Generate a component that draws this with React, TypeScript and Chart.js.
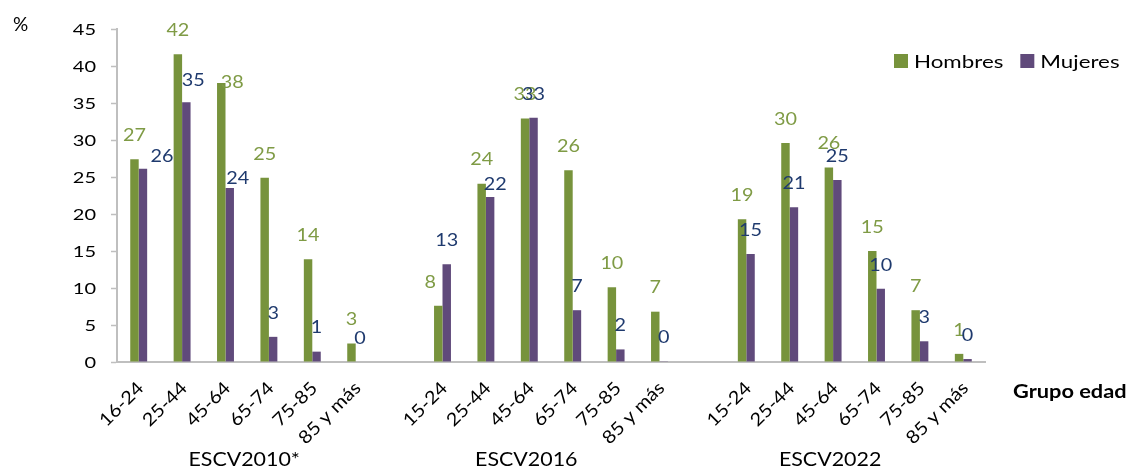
import React, { useEffect, useRef } from 'react';
import { Chart, registerables } from 'chart.js';

Chart.register(...registerables);

// ---- data ----
const categories = [
  '16-24', '25-44', '45-64', '65-74', '75-85', '85 y más', '',
  '15-24', '25-44', '45-64', '65-74', '75-85', '85 y más', '',
  '15-24', '25-44', '45-64', '65-74', '75-85', '85 y más',
];
const hombres = [27.4, 41.6, 37.7, 24.9, 13.9, 2.5, null, 7.6, 24.1, 32.9, 25.9, 10.1, 6.8, null, 19.3, 29.6, 26.3, 15.0, 7.0, 1.1];
const mujeres = [26.1, 35.1, 23.5, 3.4, 1.4, 0, null, 13.2, 22.3, 33.0, 7.0, 1.7, 0.1, null, 14.6, 20.9, 24.6, 9.9, 2.8, 0.4];
const seriesNames = ['Hombres', 'Mujeres'];
const surveys = ['ESCV2010*', 'ESCV2016', 'ESCV2022'];
const surveyFirst = [0, 6, 13];
const surveyLast = [5, 12, 19];
const yTickValues = [0, 5, 10, 15, 20, 25, 30, 35, 40, 45];
const yUnit = '%';
const xTitle = 'Grupo edad';

// ---- style ----
const GREEN = '#77933C';
const PURPLE = '#604A7B';
const GREEN_TXT = '#7F9B45';
const BLUE_TXT = '#1F3A6E';
const AXIS = '#BFBFBF';
const FONT = 'Lato';
// label nudges (px) for a few overlapping data labels: [dataset, index, dx, dy]
const labelNudges: [number, number, number, number][] = [
  [1, 0, 19, 11],
  [1, 1, 7, 2],
  [0, 2, 11, 23],
  [1, 2, 8, 14],
  [0, 7, -8, 0],
  [1, 8, 5, 11],
];

type TOpts = {
  size: number;
  weight?: string;
  color: string;
  align: CanvasTextAlign;
  baseline: CanvasTextBaseline;
  sx?: number;
  rot?: number;
};

function drawText(ctx: CanvasRenderingContext2D, s: string, x: number, y: number, o: TOpts) {
  ctx.save();
  ctx.translate(x, y);
  if (o.rot) ctx.rotate(o.rot);
  ctx.scale(o.sx ?? 1, 1);
  ctx.font = `${o.weight ?? 'normal'} ${o.size}px ${FONT}`;
  ctx.fillStyle = o.color;
  ctx.textAlign = o.align;
  ctx.textBaseline = o.baseline;
  ctx.fillText(s, 0, 0);
  ctx.restore();
}

const textPlugin = {
  id: 'textPlugin',
  afterDraw(chart: any) {
    const ctx: CanvasRenderingContext2D = chart.ctx;
    const xs = chart.scales.x;
    const ys = chart.scales.y;
    const area = chart.chartArea;

    // y tick labels
    yTickValues.forEach((v) => {
      drawText(ctx, String(v), area.left - 21, ys.getPixelForValue(v) + 1, {
        size: 16, color: '#000', align: 'right', baseline: 'middle', sx: 1.25,
      });
    });

    // x tick labels (rotated)
    categories.forEach((c, i) => {
      if (!c) return;
      const px = xs.getPixelForValue(i);
      drawText(ctx, c, px + 2, area.bottom + 23, {
        size: 18, color: '#000', align: 'right', baseline: 'middle', sx: 1.12, rot: -Math.PI / 4,
      });
    });

    // survey group labels
    surveys.forEach((s, g) => {
      const a = xs.getPixelForValue(surveyFirst[g]);
      const b = xs.getPixelForValue(surveyLast[g]);
      drawText(ctx, s, (a + b) / 2 - 3, 466, {
        size: 20, color: '#000', align: 'center', baseline: 'alphabetic', sx: 1.07,
      });
    });

    // data labels
    chart.data.datasets.forEach((ds: any, di: number) => {
      const meta = chart.getDatasetMeta(di);
      meta.data.forEach((el: any, i: number) => {
        const v = ds.data[i];
        if (v === null || v === undefined) return;
        let dx = 0;
        let dy = 0;
        labelNudges.forEach(([d, idx, ndx, ndy]) => {
          if (d === di && idx === i) { dx = ndx; dy = ndy; }
        });
        drawText(ctx, String(Math.round(v)), el.x + dx, el.y - 24 + dy, {
          size: 18, color: di === 0 ? GREEN_TXT : BLUE_TXT, align: 'center', baseline: 'middle', sx: 1.1,
        });
      });
    });

    // legend
    let lx = 894;
    const ly = 61;
    seriesNames.forEach((n, i) => {
      ctx.fillStyle = i === 0 ? GREEN : PURPLE;
      ctx.fillRect(lx, ly - 7, 14, 14);
      lx += 14 + 6;
      ctx.save();
      ctx.font = `normal 18px ${FONT}`;
      const w = ctx.measureText(n).width * 1.24;
      ctx.restore();
      drawText(ctx, n, lx, ly + 1, { size: 18, color: '#000', align: 'left', baseline: 'middle', sx: 1.24 });
      lx += w + 17;
    });

    // unit and axis title
    drawText(ctx, yUnit, 13, 31, { size: 19, color: '#000', align: 'left', baseline: 'alphabetic', sx: 1.0 });
    drawText(ctx, xTitle, 1013, 398, { size: 18, weight: 'bold', color: '#000', align: 'left', baseline: 'alphabetic', sx: 1.21 });
  },
};

export default function App() {
  const ref = useRef<HTMLCanvasElement | null>(null);
  useEffect(() => {
    if (!ref.current) return;
    const chart = new Chart(ref.current, {
      type: 'bar',
      data: {
        labels: categories,
        datasets: [
          { label: seriesNames[0], data: hombres, backgroundColor: GREEN, borderWidth: 0 },
          { label: seriesNames[1], data: mujeres, backgroundColor: PURPLE, borderWidth: 0 },
        ],
      },
      options: {
        animation: false,
        responsive: false,
        events: [],
        layout: { padding: { top: 29, right: 145, bottom: 0, left: 0 } },
        datasets: { bar: { categoryPercentage: 0.39, barPercentage: 1.0 } },
        plugins: { legend: { display: false }, tooltip: { enabled: false } },
        scales: {
          x: {
            grid: { display: false },
            border: { display: true, color: AXIS, width: 2 },
            ticks: { display: false },
            afterFit: (s: any) => { s.height = 109; },
          },
          y: {
            min: 0,
            max: 45,
            ticks: { display: false, stepSize: 5 },
            grid: { display: true, drawOnChartArea: false, drawTicks: true, tickLength: 6, tickColor: AXIS, tickWidth: 1.5 },
            border: { display: true, color: AXIS, width: 2 },
            afterFit: (s: any) => { s.width = 117; },
          },
        },
      },
      plugins: [textPlugin],
    } as any);
    return () => chart.destroy();
  }, []);
  return (
    <div style={{ position: 'fixed', left: 0, top: 0, width: 1130, height: 471, background: '#fff' }}>
      <canvas ref={ref} width={1130} height={471} style={{ width: 1130, height: 471, display: 'block' }} />
    </div>
  );
}
